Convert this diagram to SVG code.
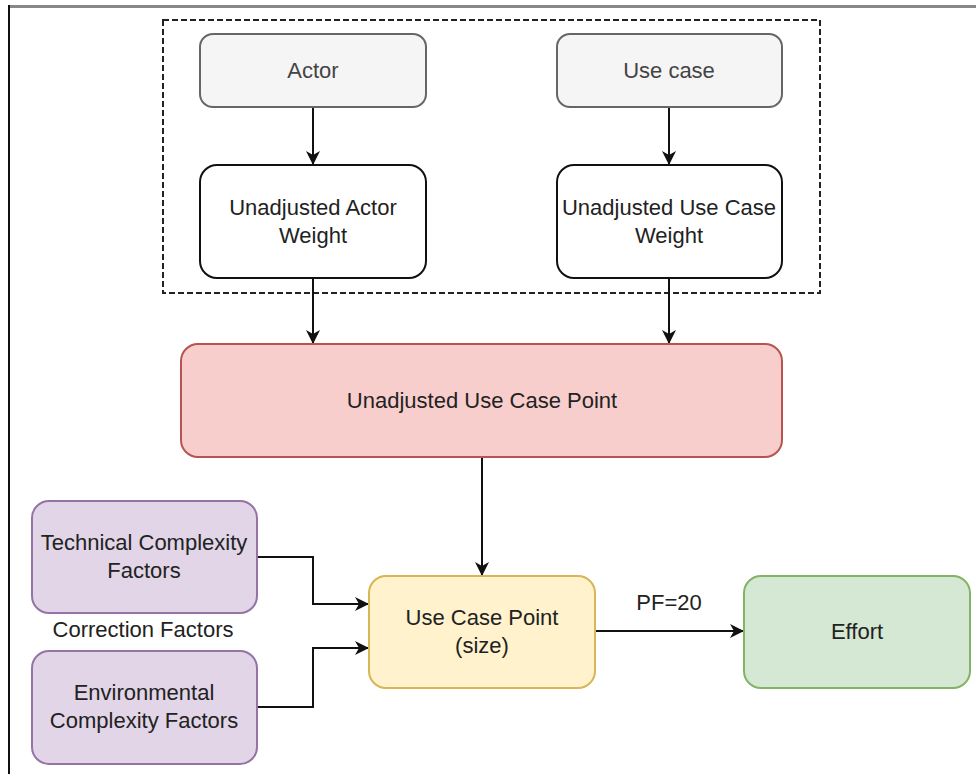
<svg xmlns="http://www.w3.org/2000/svg" width="976" height="774" viewBox="0 0 976 774">
  <style>
    .lbl { font-family: "Liberation Sans", Arial, sans-serif; font-size: 22px; fill: #222; text-anchor: middle; }
    .lbl.soft { fill: #444; }
    .edge { fill: none; stroke: #111; stroke-width: 2; }
    .box { stroke-width: 2; }
  </style>
  <defs>
    <marker id="arrow" markerUnits="userSpaceOnUse" markerWidth="16" markerHeight="16" viewBox="0 0 16 16" refX="14" refY="8" orient="auto">
      <path d="M1,1 L15,8 L1,15 L5,8 Z" fill="#111"/>
    </marker>
  </defs>

  <rect width="976" height="774" fill="#fff"/>

  <!-- page frame -->
  <g id="frame">
    <rect x="8" y="5" width="968" height="3" fill="#888"/>
    <rect x="8" y="5" width="2" height="769" fill="#111"/>
  </g>

  <!-- dashed grouping around the unadjusted weights -->
  <g id="group">
    <rect x="163" y="20" width="657" height="273" fill="none" stroke="#222" stroke-width="2" stroke-dasharray="6 3"/>
  </g>

  <!-- connectors -->
  <g id="connectors">
    <path class="edge" d="M313,107 V164" marker-end="url(#arrow)"/>
    <path class="edge" d="M669,107 V164" marker-end="url(#arrow)"/>
    <path class="edge" d="M313,278 V343" marker-end="url(#arrow)"/>
    <path class="edge" d="M669,278 V343" marker-end="url(#arrow)"/>
    <path class="edge" d="M482,457 V575" marker-end="url(#arrow)"/>
    <path class="edge" d="M257,557 H313 V604 H368" marker-end="url(#arrow)"/>
    <path class="edge" d="M257,707 H313 V648 H368" marker-end="url(#arrow)"/>
    <path class="edge" d="M595,631 H743" marker-end="url(#arrow)"/>
    <text class="lbl" x="669" y="610">PF=20</text>
  </g>

  <g id="actor">
    <rect class="box" x="200" y="34" width="226" height="73" rx="13" fill="#f5f5f5" stroke="#666"/>
    <text class="lbl soft" x="313" y="78">Actor</text>
  </g>

  <g id="use-case">
    <rect class="box" x="557" y="34" width="225" height="73" rx="13" fill="#f5f5f5" stroke="#666"/>
    <text class="lbl soft" x="669" y="78">Use case</text>
  </g>

  <g id="uaw">
    <rect class="box" x="200" y="165" width="226" height="113" rx="17" fill="#fff" stroke="#111"/>
    <text class="lbl" x="313" y="215">Unadjusted Actor</text>
    <text class="lbl" x="313" y="243">Weight</text>
  </g>

  <g id="uucw">
    <rect class="box" x="557" y="165" width="225" height="113" rx="17" fill="#fff" stroke="#111"/>
    <text class="lbl" x="669" y="215">Unadjusted Use Case</text>
    <text class="lbl" x="669" y="243">Weight</text>
  </g>

  <g id="uucp">
    <rect class="box" x="181" y="344" width="601" height="113" rx="17" fill="#f8cecc" stroke="#b85450"/>
    <text class="lbl" x="482" y="408">Unadjusted Use Case Point</text>
  </g>

  <g id="tcf">
    <rect class="box" x="32" y="501" width="225" height="112" rx="17" fill="#e1d5e7" stroke="#9673a6"/>
    <text class="lbl" x="144" y="550">Technical Complexity</text>
    <text class="lbl" x="144" y="578">Factors</text>
  </g>

  <g id="correction-label">
    <text class="lbl" x="143" y="637">Correction Factors</text>
  </g>

  <g id="ecf">
    <rect class="box" x="32" y="651" width="225" height="113" rx="17" fill="#e1d5e7" stroke="#9673a6"/>
    <text class="lbl" x="144" y="700">Environmental</text>
    <text class="lbl" x="144" y="728">Complexity Factors</text>
  </g>

  <g id="ucp">
    <rect class="box" x="369" y="576" width="226" height="112" rx="17" fill="#fff2cc" stroke="#d6b656"/>
    <text class="lbl" x="482" y="625">Use Case Point</text>
    <text class="lbl" x="482" y="653">(size)</text>
  </g>

  <g id="effort">
    <rect class="box" x="744" y="576" width="226" height="112" rx="17" fill="#d5e8d4" stroke="#82b366"/>
    <text class="lbl" x="857" y="639">Effort</text>
  </g>
</svg>
